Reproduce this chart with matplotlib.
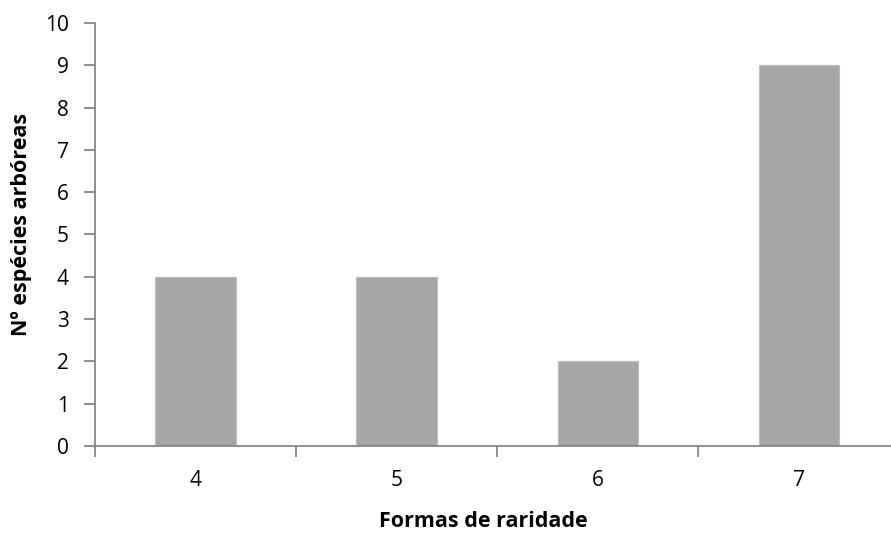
import matplotlib
matplotlib.use("Agg")
import matplotlib.pyplot as plt
import numpy as np

# rarity forms and number of tree species per form
formas = ["4", "5", "6", "7"]
especies = [4, 4, 2, 9]
y_ticks = list(range(0, 11))

plt.rcParams["font.family"] = ["Open Sans", "DejaVu Sans"]

fig = plt.figure(figsize=(8.91, 5.33), dpi=100)
# axes run slightly past the right edge of the figure
ax = fig.add_axes([95 / 891, 1 - 446 / 533, 804.5 / 891, 423 / 533])

x = np.arange(len(formas))
ax.bar(x, especies, width=0.4, color="#a6a6a6", edgecolor="#bdbdbd", linewidth=0.8, zorder=2)

ax.set_xlim(-0.5, len(formas) - 0.5)
ax.set_ylim(0, 10)
ax.set_yticks(y_ticks)

ax.set_xticks(x)
ax.set_xticklabels(formas)
ax.set_xticks(np.arange(len(formas) + 1) - 0.5, minor=True)
ax.tick_params(axis="x", which="major", length=0, pad=17, labelsize=15)
ax.tick_params(axis="x", which="minor", length=8, width=1.3, color="#868686", direction="out")
ax.tick_params(axis="y", length=8, width=1.3, color="#868686", direction="out", pad=11, labelsize=15)

for side in ("top", "right"):
    ax.spines[side].set_visible(False)
for side in ("left", "bottom"):
    ax.spines[side].set_color("#868686")
    ax.spines[side].set_linewidth(1.3)

# axis titles placed in figure coordinates
fig.text(483 / 891, 1 - 527 / 533, "Formas de raridade", fontsize=15.5,
         fontweight="bold", ha="center", va="baseline")
fig.text(22 / 891, 1 - 224 / 533, "Nº espécies arbóreas", fontsize=15.5,
         fontweight="bold", rotation=90, ha="center", va="center")

fig.savefig("out.png", dpi=100)
